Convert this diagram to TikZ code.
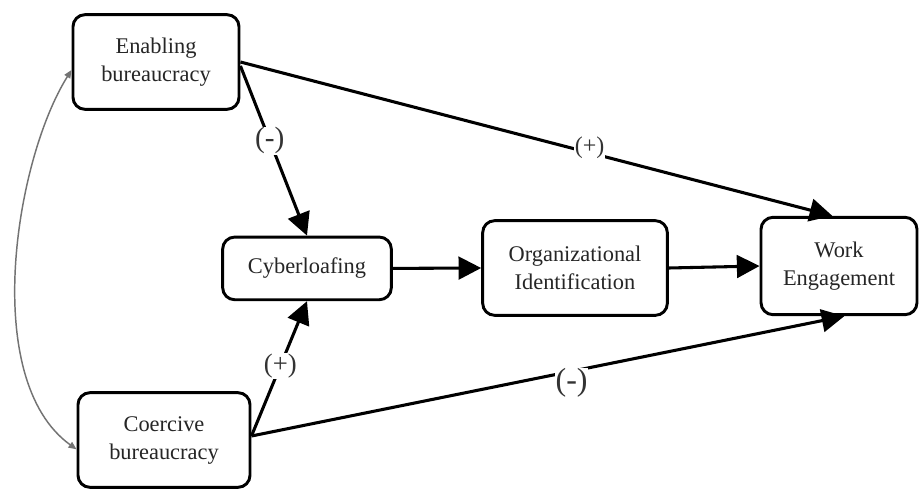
\documentclass[tikz,border=0pt]{standalone}
\usepackage{fontspec}
\setmainfont{Liberation Serif}
\usetikzlibrary{arrows.meta}
\begin{document}
\begin{tikzpicture}[x=0.75pt,y=-0.75pt,
  box/.style={draw=black, line width=2.2pt, rounded corners=9pt, fill=white,
    align=center, font=\fontsize{16.8}{21}\selectfont, text=black!85, inner sep=0pt},
  link/.style={line width=2.3pt, -{Triangle[length=17pt,width=17pt]}},
  lbl/.style={fill=white, inner sep=0.5pt, text=black!80},
  corr/.style={draw=black!55, line width=1.1pt, {Triangle[length=6pt,width=5pt]}-{Triangle[length=6pt,width=5pt]}}
]
\useasboundingbox (0,0) rectangle (919,488);
\fill[white] (0,0) rectangle (919,488);

\node[box, minimum width=124.5pt, minimum height=71pt] (enab) at (156,62) {Enabling\\bureaucracy};
\node[box, minimum width=129pt, minimum height=71pt] (coer) at (164,440) {Coercive\\bureaucracy};
\node[box, minimum width=126.5pt, minimum height=47pt] (cyber) at (307,268.4) {Cyberloafing};
\node[box, minimum width=138.5pt, minimum height=71pt] (org) at (575,268) {Organizational\\Identification};
\node[box, minimum width=117pt, minimum height=73pt] (work) at (839,266) {Work\\Engagement};

\coordinate (eA) at ([yshift=-3pt]enab.east);
\coordinate (cA) at ([yshift=3pt]coer.east);

\draw[link] (eA) -- node[lbl, pos=0.44, font=\fontsize{22}{24}\selectfont] (l1) {(-)} (cyber.north);
\draw[link] (enab.east) -- node[lbl, pos=0.59, yshift=4pt, font=\fontsize{18}{20}\selectfont] (l2) {(+)} ([xshift=-5pt]work.north);
\draw[link] (cyber.east) -- (org.west);
\draw[link] (org.east) -- (work.west);
\draw[link] (cA) -- node[lbl, pos=0.52, font=\fontsize{20}{22}\selectfont] (l3) {(+)} (cyber.south);
\draw[link] (cA) -- node[lbl, pos=0.54, yshift=-9pt, font=\fontsize{24}{26}\selectfont] (l4) {(-)} ([xshift=4pt]work.south);

\coordinate (eW) at ([yshift=-6pt]enab.west);
\coordinate (cW) at ([yshift=-7pt]coer.west);
\draw[corr] (eW) .. controls (15,160) and (-20,380) .. (cW);
\end{tikzpicture}
\end{document}
